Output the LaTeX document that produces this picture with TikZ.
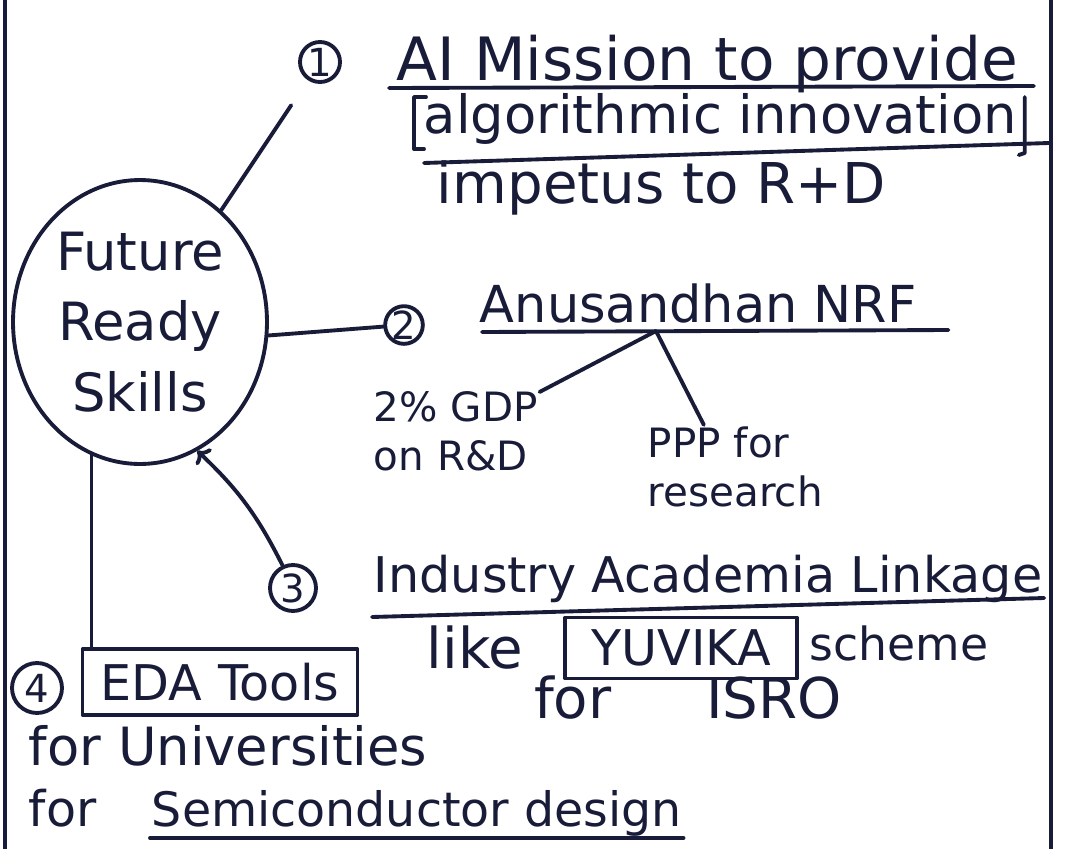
\documentclass[tikz,border=0pt]{standalone}
\usepackage{fontspec}
\setmainfont{DejaVu Sans}
\usetikzlibrary{shapes.geometric,arrows.meta}
\definecolor{ink}{RGB}{24,28,56}
\newcommand{\fsz}[1]{\fontsize{#1}{1.2\dimexpr#1pt\relax}\selectfont}
\tikzset{
    hand/.style={inner sep=0pt,text=ink,font=\fsz{28}},
    handsmall/.style={hand,font=\fsz{23}},
    num/.style={circle,draw,inner sep=0pt,minimum size=0.8cm,text=ink,font=\fsz{22}},
    toolbox/.style={hand,draw,inner sep=0pt}
}
\begin{document}
\begin{tikzpicture}[x=0.02cm,y=-0.02cm,draw=ink,line width=2.2pt,line cap=round,line join=round]
    \useasboundingbox (0,0) rectangle (1066,849);
    \fill[white] (0,0) rectangle (1066,849);
    % page margins
    \draw (5,0) -- (5,849);
    \draw (1051,0) -- (1051,849);

    \node[ellipse,draw,inner sep=0pt,minimum width=5.08cm,minimum height=5.68cm,align=center,
        text=ink,font=\fontsize{30}{40}\selectfont] (skills) at (140,322) {Future\\Ready\\Skills};

    % 1
    \node[num] (n1) at (320,62) {1};
    \node[hand,font=\fsz{34},anchor=base west] (aim) at (395,80) {AI Mission to provide};
    \node[hand,font=\fsz{30},anchor=base west] (algo) at (422,133) {algorithmic innovation};
    \node[hand,font=\fsz{32},anchor=base west] (imp) at (435,203) {impetus to R+D};
    \draw ([shift={(-6,8)}]aim.base west) -- ([shift={(14,6)}]aim.base east);
    \draw ([shift={(4,-36)}]algo.base west) -- ([shift={(-8,-36)}]algo.base west)
        -- ([shift={(-8,16)}]algo.base west) -- ([shift={(2,16)}]algo.base west);
    \draw ([shift={(6,-36)}]algo.base east) -- ([shift={(6,20)}]algo.base east) -- ([shift={(0,22)}]algo.base east);
    \draw ([shift={(2,30)}]algo.base west) -- ([shift={(30,10)}]algo.base east);
    \draw[shorten <=0.6cm] (n1) -- (skills.54);

    % 2
    \node[num,minimum size=0.72cm] (n2) at (404,325) {2};
    \node[hand,font=\fsz{29},anchor=base west] (anu) at (478,322) {Anusandhan NRF};
    \draw ([shift={(4,10)}]anu.base west) -- ([shift={(30,8)}]anu.base east);
    \coordinate (fork) at (656,331);
    \node[handsmall,align=left,anchor=base west] (gdp) at (372,470) {2\% GDP\\on R\&D};
    \node[handsmall,align=left,anchor=base west] (ppp) at (646,506) {PPP for\\research};
    \draw (skills.-6) -- (n2);
    \draw (fork) -- (gdp.25);
    \draw (fork) -- (ppp.127);

    % 3
    \node[num,minimum size=0.92cm] (n3) at (293,588) {3};
    \node[hand,anchor=base west] (ind) at (372,592) {Industry Academia Linkage};
    \draw ([shift={(0,25)}]ind.base west) -- ([shift={(0,6)}]ind.base east);
    \node[hand,font=\fsz{32},anchor=base] (like) at (475,668) {like};
    \node[toolbox,minimum width=4.64cm,minimum height=1.22cm] (yuv) at (681,648) {YUVIKA};
    \node[hand,font=\fsz{26},anchor=base] (sch) at (899,660) {scheme};
    \node[hand,font=\fsz{32},anchor=base] (isro) at (688,718) {for\hspace{1.9cm}ISRO};
    \draw[-{To[length=6pt]}] (n3) to[bend right=10] (skills.-66);

    % 4
    \node[num,minimum size=1cm] (n4) at (37,688) {4};
    \node[toolbox,minimum width=5.5cm,minimum height=1.32cm] (eda) at (220,682) {EDA Tools};
    \draw (skills.250) -- (skills.250 |- eda.north);
    \node[hand,font=\fsz{30},anchor=base west] (uni) at (27,765) {for Universities};
    \node[hand,anchor=base west] (for) at (27,826) {for};
    \node[hand,font=\fsz{27},anchor=base west] (semi) at (150,826) {Semiconductor design};
    \draw ([shift={(0,12)}]semi.base west) -- ([shift={(0,12)}]semi.base east);
\end{tikzpicture}
\end{document}
